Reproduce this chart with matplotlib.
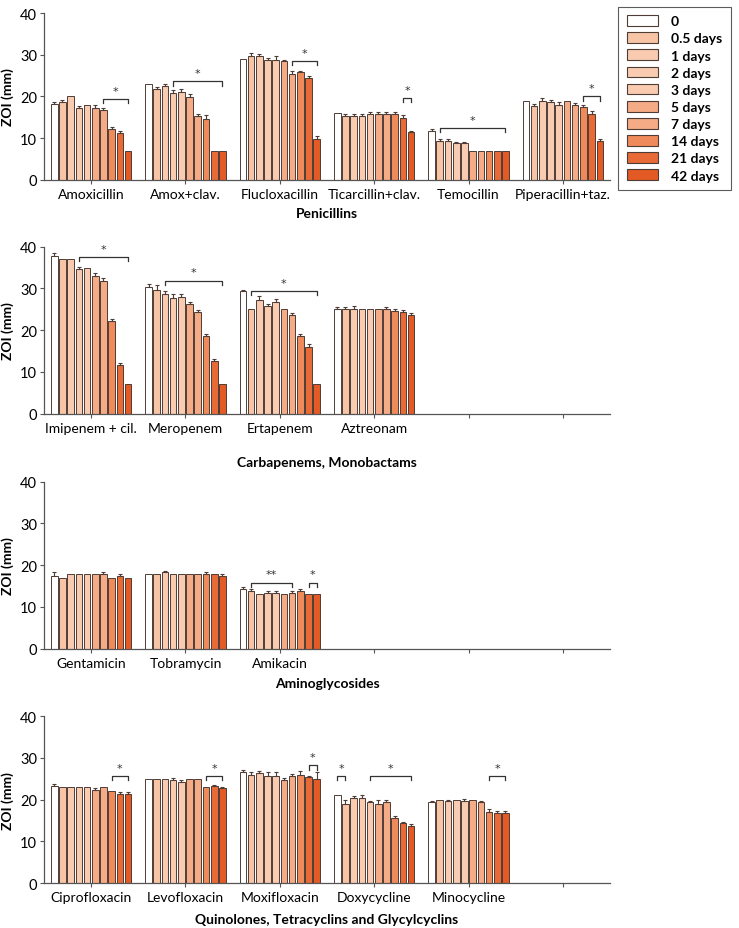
import numpy as np
import matplotlib.pyplot as plt
from matplotlib.patches import Patch

plt.rcParams['font.family'] = ['Lato', 'DejaVu Sans']

################################################################
# data (ZOI in mm)

times = ['0', '0.5 days', '1 days', '2 days', '3 days', '5 days', '7 days',
         '14 days', '21 days', '42 days']
colors = ['#ffffff', '#f8c4a6', '#f9cbb0', '#f9cbb0', '#f9cbb0', '#f4ab86',
          '#f4ab86', '#ef8a5b', '#e86a36', '#e45a24']

pen_names = ['Amoxicillin', 'Amox+clav.', 'Flucloxacillin', 'Ticarcillin+clav.',
             'Temocillin', 'Piperacillin+taz.']
pen_vals = [
    [18.3, 18.7, 20.0, 17.3, 18.0, 17.3, 16.7, 12.3, 11.3, 7.0],
    [23.0, 21.8, 22.6, 20.8, 21.0, 19.8, 15.3, 14.7, 7.0, 7.0],
    [29.0, 29.7, 29.7, 28.8, 28.8, 28.4, 25.4, 25.8, 24.4, 9.8],
    [16.1, 15.4, 15.4, 15.4, 15.8, 15.8, 15.8, 15.8, 14.8, 11.4],
    [11.7, 9.3, 9.3, 8.9, 8.9, 7.0, 7.0, 7.0, 7.0, 7.0],
    [19.0, 17.8, 19.0, 18.6, 18.0, 19.0, 18.0, 17.4, 15.8, 9.3],
]
pen_err = [
    [0.5, 0.5, 0.0, 0.5, 0.0, 0.7, 0.5, 0.5, 0.5, 0.0],
    [0.0, 0.5, 0.4, 0.8, 0.8, 0.8, 0.5, 0.8, 0.0, 0.0],
    [0.0, 0.8, 0.5, 0.4, 1.0, 0.4, 0.8, 0.4, 0.4, 0.8],
    [0.0, 0.3, 0.3, 0.3, 0.4, 0.4, 0.4, 0.4, 0.8, 0.4],
    [0.4, 0.4, 0.4, 0.2, 0.2, 0.0, 0.0, 0.0, 0.0, 0.0],
    [0.0, 0.4, 0.7, 0.5, 0.7, 0.0, 0.5, 0.5, 0.7, 0.4],
]
pen_sig = [(0, 6, 9, 19.4, '*'), (1, 3, 9, 23.6, '*'), (2, 6, 9, 28.5, '*'),
           (3, 8, 9, 19.6, '*'), (4, 1, 9, 12.4, '*'), (5, 7, 9, 20.0, '*')]

carb_names = ['Imipenem + cil.', 'Meropenem', 'Ertapenem', 'Aztreonam']
carb_vals = [
    [37.9, 37.0, 37.0, 34.7, 35.0, 33.0, 31.7, 22.3, 11.7, 7.0],
    [30.3, 29.7, 28.7, 27.8, 28.0, 26.3, 24.3, 18.7, 12.7, 7.0],
    [29.3, 25.0, 27.3, 25.8, 26.7, 25.0, 23.7, 18.7, 16.0, 7.0],
    [25.0, 25.0, 25.2, 25.0, 25.0, 25.0, 25.0, 24.7, 24.3, 23.7],
]
carb_err = [
    [0.7, 0.0, 0.0, 0.5, 0.0, 0.8, 0.8, 0.4, 0.5, 0.0],
    [0.8, 1.2, 0.8, 0.8, 0.7, 0.4, 0.5, 0.5, 0.4, 0.0],
    [0.4, 0.0, 0.8, 0.5, 0.8, 0.0, 0.4, 0.5, 0.7, 0.0],
    [0.6, 0.5, 0.5, 0.0, 0.0, 0.0, 0.6, 0.4, 0.5, 0.4],
]
carb_sig = [(0, 3, 9, 37.5, '*'), (1, 2, 9, 31.9, '*'), (2, 1, 9, 29.4, '*')]

amg_names = ['Gentamicin', 'Tobramycin', 'Amikacin']
amg_vals = [
    [17.4, 17.0, 18.0, 18.0, 18.0, 18.0, 17.8, 17.0, 17.4, 17.0],
    [18.0, 18.0, 18.3, 18.0, 18.0, 18.0, 18.0, 17.8, 18.0, 17.4],
    [14.3, 13.8, 13.0, 13.3, 13.3, 13.0, 13.3, 13.8, 13.0, 13.0],
]
amg_err = [
    [1.0, 0.0, 0.0, 0.0, 0.0, 0.0, 0.5, 0.0, 0.5, 0.0],
    [0.0, 0.0, 0.4, 0.0, 0.0, 0.0, 0.0, 0.5, 0.0, 0.4],
    [0.4, 0.4, 0.0, 0.4, 0.4, 0.0, 0.4, 0.5, 0.0, 0.0],
]
amg_sig = [(2, 1, 6, 15.8, '**'), (2, 8, 9, 15.8, '*')]

quin_names = ['Ciprofloxacin', 'Levofloxacin', 'Moxifloxacin', 'Doxycycline',
              'Minocycline']
quin_vals = [
    [23.3, 23.0, 23.0, 23.0, 23.0, 22.3, 23.0, 22.0, 21.3, 21.3],
    [25.0, 25.0, 25.0, 24.7, 24.3, 25.0, 25.0, 23.0, 23.3, 22.7],
    [26.7, 26.0, 26.3, 25.7, 25.7, 24.7, 25.7, 26.0, 25.3, 25.0],
    [21.0, 19.0, 20.3, 20.3, 19.3, 19.0, 19.3, 15.7, 14.3, 13.7],
    [19.3, 20.0, 19.7, 20.0, 19.7, 20.0, 19.3, 17.0, 16.7, 16.7],
]
quin_err = [
    [0.4, 0.0, 0.0, 0.0, 0.0, 0.5, 0.0, 0.0, 0.5, 0.4],
    [0.0, 0.0, 0.0, 0.4, 0.4, 0.0, 0.0, 0.0, 0.3, 0.4],
    [0.4, 0.6, 0.5, 0.9, 0.8, 0.4, 0.4, 0.8, 0.4, 1.5],
    [0.0, 0.9, 0.5, 0.9, 0.4, 0.9, 0.5, 0.4, 0.4, 0.4],
    [0.4, 0.0, 0.3, 0.0, 0.4, 0.0, 0.4, 0.7, 0.5, 0.5],
]
quin_sig = [(0, 7, 9, 25.6, '*'), (1, 7, 9, 25.6, '*'), (2, 8, 9, 28.2, '*'),
            (3, 0, 1, 25.6, '*'), (3, 4, 9, 25.6, '*'), (4, 7, 9, 25.6, '*')]

################################################################

EDGE = '#4d3d36'
AXC = '#555555'
STEP = 0.087
WIDTH = 0.07


def draw_panel(ax, names, vals, errs, sigs, title, title_y):
    """
    Draw one row of grouped bars with upward error bars and significance brackets
    """
    vals = np.array(vals)
    errs = np.array(errs)
    for g in range(len(names)):
        for i in range(len(times)):
            x = g + (i - 4.5) * STEP
            ax.bar(x, vals[g, i], WIDTH, color=colors[i], edgecolor=EDGE,
                   linewidth=0.7, zorder=2)
            if errs[g, i] > 0:
                ax.errorbar(x, vals[g, i], yerr=[[0], [errs[g, i]]], fmt='none',
                            ecolor=EDGE, elinewidth=0.8, capsize=1.6,
                            capthick=0.8, zorder=3)

    for g, a, b, h, lab in sigs:
        x1 = g + (a - 4.5) * STEP
        x2 = g + (b - 4.5) * STEP
        ax.plot([x1, x1, x2, x2], [h - 1.0, h, h, h - 1.0], color='#333333',
                lw=0.9, zorder=3)
        ax.text((x1 + x2) / 2, h + 0.8, lab, ha='center', va='bottom',
                fontsize=8, color='#333333', family='DejaVu Sans')

    ax.set_xlim(-0.5, 5.5)
    ax.set_ylim(0, 40)
    ax.set_xticks(range(6))
    ax.set_xticklabels(names + [''] * (6 - len(names)), fontsize=10)
    ax.set_yticks([0, 10, 20, 30, 40])
    ax.tick_params(axis='y', labelsize=10.5, length=3, color=AXC, pad=2)
    ax.tick_params(axis='x', length=3, color=AXC, pad=3)
    for s in ['top', 'right']:
        ax.spines[s].set_visible(False)
    for s in ['left', 'bottom']:
        ax.spines[s].set_color(AXC)
        ax.spines[s].set_linewidth(0.9)
    ax.set_ylabel('ZOI (mm)', fontsize=10, fontweight='bold', labelpad=4)
    fig.text(0.4425, title_y, title, ha='center', va='center', fontsize=10,
             fontweight='bold')


fig = plt.figure(figsize=(7.39, 9.29), dpi=100)
left, width, height = 0.0595, 0.766, 0.1797
ax1 = fig.add_axes([left, 0.8052, width, height])
ax2 = fig.add_axes([left, 0.5536, width, height])
ax3 = fig.add_axes([left, 0.3007, width, height])
ax4 = fig.add_axes([left, 0.0484, width, height])

draw_panel(ax1, pen_names, pen_vals, pen_err, pen_sig, 'Penicillins', 1 - 214 / 929)
draw_panel(ax2, carb_names, carb_vals, carb_err, carb_sig,
           'Carbapenems, Monobactams', 1 - 463 / 929)
draw_panel(ax3, amg_names, amg_vals, amg_err, amg_sig, 'Aminoglycosides',
           1 - 684 / 929)
draw_panel(ax4, quin_names, quin_vals, quin_err, quin_sig,
           'Quinolones, Tetracyclins and Glycylcyclins', 1 - 920 / 929)

handles = [Patch(facecolor=c, edgecolor=EDGE, linewidth=0.8) for c in colors]
leg = fig.legend(handles, times, loc='upper right', bbox_to_anchor=(0.998, 0.999),
                 frameon=True, fancybox=False, edgecolor='#333333',
                 prop={'size': 10, 'weight': 'bold'}, handlelength=2.3,
                 handleheight=0.8, labelspacing=0.36, borderpad=0.6,
                 handletextpad=0.9)
leg.get_frame().set_linewidth(0.8)

fig.savefig('out.png', dpi=100)
